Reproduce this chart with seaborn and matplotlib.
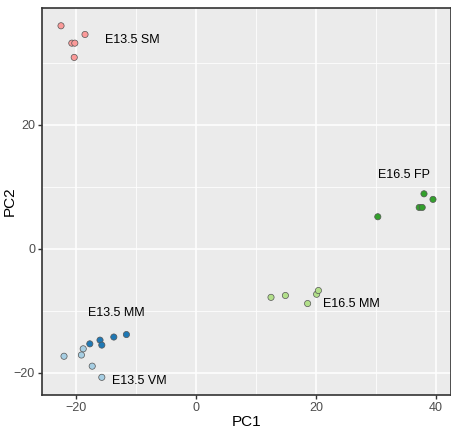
import matplotlib
matplotlib.use('Agg')
import pandas as pd
import matplotlib.pyplot as plt
import seaborn as sns
from matplotlib.ticker import MultipleLocator

# point coordinates
sm_pc1 = [-22.5, -18.5, -20.7, -20.2, -20.3]
sm_pc2 = [36.0, 34.6, 33.2, 33.2, 30.9]
mm13_pc1 = [-17.7, -16.0, -15.7, -13.7, -11.6]
mm13_pc2 = [-15.3, -14.7, -15.5, -14.2, -13.8]
vm_pc1 = [-22.0, -18.8, -19.1, -17.3, -15.7]
vm_pc2 = [-17.3, -16.1, -17.1, -18.9, -20.7]
fp_pc1 = [38.0, 39.5, 37.2, 37.7, 30.3]
fp_pc2 = [8.9, 8.0, 6.7, 6.7, 5.2]
mm16_pc1 = [12.5, 14.9, 18.6, 20.1, 20.4]
mm16_pc2 = [-7.8, -7.5, -8.8, -7.3, -6.7]

groups = ['E13.5 MM', 'E13.5 SM', 'E13.5 VM', 'E16.5 FP', 'E16.5 MM']
colors = {'E13.5 VM': '#A6CEE3', 'E13.5 MM': '#1F78B4', 'E16.5 MM': '#B2DF8A',
          'E16.5 FP': '#33A02C', 'E13.5 SM': '#FB9A99'}

# label anchors (left edge, vertical centre)
label_x = [-18.0, -15.2, -14.0, 30.3, 21.2]
label_y = [-10.3, 33.7, -21.3, 11.9, -8.9]

frames = []
for name, xs, ys in [('E13.5 SM', sm_pc1, sm_pc2), ('E13.5 MM', mm13_pc1, mm13_pc2),
                     ('E13.5 VM', vm_pc1, vm_pc2), ('E16.5 FP', fp_pc1, fp_pc2),
                     ('E16.5 MM', mm16_pc1, mm16_pc2)]:
    frames.append(pd.DataFrame({'PC1': xs, 'PC2': ys, 'group': name}))
df = pd.concat(frames, ignore_index=True)

plt.rcParams['font.family'] = ['Liberation Sans', 'DejaVu Sans']

fig = plt.figure(figsize=(4.51, 4.38), dpi=100)
ax = fig.add_axes([42 / 451, 1 - 395 / 438, 1 - 42 / 451, (395 - 8) / 438])
ax.set_facecolor('#EBEBEB')

sns.scatterplot(data=df, x='PC1', y='PC2', hue='group', palette=colors, ax=ax,
                s=20, edgecolor='#555555', linewidth=0.5, legend=False, zorder=3)

for name, lx, ly in zip(groups, label_x, label_y):
    ax.text(lx, ly, name, fontsize=9, ha='left', va='center', color='black')

ax.set_xlim(-25.67, 42.5)
ax.set_ylim(-23.55, 38.87)
ax.xaxis.set_major_locator(MultipleLocator(20))
ax.yaxis.set_major_locator(MultipleLocator(20))
ax.xaxis.set_minor_locator(MultipleLocator(10))
ax.yaxis.set_minor_locator(MultipleLocator(10))
ax.grid(which='major', color='white', linewidth=1.1, zorder=0)
ax.grid(which='minor', color='white', linewidth=0.55, zorder=0)
ax.set_axisbelow(True)
ax.tick_params(which='minor', length=0)
ax.tick_params(which='major', length=3, width=1, color='#333333', labelcolor='#4D4D4D',
               labelsize=9, pad=2)
for sp in ax.spines.values():
    sp.set_color('#333333')
    sp.set_linewidth(1.2)

ax.set_xlabel('PC1', fontsize=11, labelpad=1)
ax.set_ylabel('')
fig.text(10 / 451, 1 - 201.5 / 438, 'PC2', fontsize=11, rotation=90,
         ha='center', va='center')

fig.savefig('out.png', dpi=100)
